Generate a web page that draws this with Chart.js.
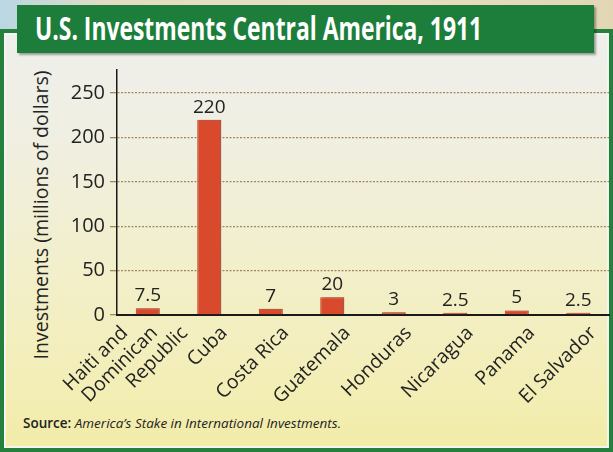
<!DOCTYPE html>
<html>
<head>
<meta charset="utf-8">
<script src="https://cdn.jsdelivr.net/npm/chart.js@4.4.1/dist/chart.umd.min.js"></script>
<style>
  html, body { margin: 0; padding: 0; }
  body {
    width: 613px; height: 452px; position: relative; overflow: hidden;
    background: linear-gradient(90deg, #b9d7e4 0%, #e4dcc2 18%, #eadfc4 60%, #e3d6b4 100%);
    font-family: "Open Sans", "Noto Sans", sans-serif;
  }
  #panel {
    position: absolute; left: 0; top: 29px; width: 613px; height: 423px;
    box-sizing: border-box;
    border: 4px solid #25803e;
    box-shadow: inset 0 0 0 2px #f4f4f0;
    background: linear-gradient(180deg, #efefec 0%, #f0efe2 25%, #f2efcc 55%, #f3eeb6 85%, #f2eca8 100%);
  }
  #title {
    position: absolute; left: 17px; top: 5px; width: 577px; height: 48px;
    background: #1d7d3b;
    box-shadow: 2px 2px 2px rgba(0,0,0,0.35);
  }
  #title span {
    position: absolute; left: 18px; top: 1px;
    color: #fff; font-weight: 700; font-size: 33px; line-height: 44px;
    white-space: nowrap; transform-origin: 0 0;
  }
  #ytitle {
    position: absolute; left: 40px; top: 215px;
    transform: translate(-50%, -50%) rotate(-90deg);
    font-size: 19.5px; color: #222; white-space: nowrap;
  }
  #source {
    position: absolute; left: 23px; top: 414px;
    font-size: 13.5px; color: #222; white-space: nowrap;
  }
  #source b { font-weight: 600; }
  #wrap { position: absolute; left: 0; top: 0; width: 613px; height: 452px; }
</style>
</head>
<body>
<div id="panel"></div>
<div id="title"><span id="titleText">U.S. Investments Central America, 1911</span></div>
<div id="ytitle">Investments (millions of dollars)</div>
<div id="source"><b>Source:</b> <i>America’s Stake in International Investments.</i></div>
<div id="wrap"><canvas id="chart" width="613" height="452"></canvas></div>

<script>
// Dados do gráfico
const paises = [
  ["Haiti and", "Dominican", "Republic"],
  "Cuba",
  "Costa Rica",
  "Guatemala",
  "Honduras",
  "Nicaragua",
  "Panama",
  "El Salvador"
];
const investimentos = [7.5, 220, 7, 20, 3, 2.5, 5, 2.5];
const rotulos = ["7.5", "220", "7", "20", "3", "2.5", "5", "2.5"];
const yTicks = [0, 50, 100, 150, 200, 250];

// Ajusta a largura do título (fonte condensada no original)
const t = document.getElementById("titleText");
t.style.transform = "scaleX(" + (447 / t.offsetWidth) + ")";

// Sombra leve à direita das barras
const sombraPlugin = {
  id: "sombra",
  beforeDatasetsDraw(chart) {
    const ctx = chart.ctx;
    ctx.save();
    ctx.shadowColor = "rgba(90,90,90,0.35)";
    ctx.shadowOffsetX = 3;
    ctx.shadowOffsetY = 0;
    ctx.shadowBlur = 2;
  },
  afterDatasetsDraw(chart) {
    chart.ctx.restore();
  }
};

// Valores acima das barras
const valorPlugin = {
  id: "valores",
  afterDatasetsDraw(chart) {
    const ctx = chart.ctx;
    const meta = chart.getDatasetMeta(0);
    ctx.save();
    ctx.font = '19px "Open Sans"';
    ctx.fillStyle = "#222";
    ctx.textAlign = "center";
    ctx.textBaseline = "bottom";
    meta.data.forEach((bar, i) => {
      ctx.fillText(rotulos[i], bar.x, bar.y - 3);
    });
    ctx.restore();
  }
};

// Rótulos do eixo x inclinados, cada linha termina rente ao eixo
const rotuloXPlugin = {
  id: "rotulosX",
  afterDraw(chart) {
    const ctx = chart.ctx;
    const xs = chart.scales.x;
    ctx.save();
    ctx.font = '19.5px "Open Sans"';
    ctx.fillStyle = "#222";
    ctx.textAlign = "right";
    ctx.textBaseline = "top";
    paises.forEach((lab, i) => {
      const linhas = Array.isArray(lab) ? lab : [lab];
      const n = linhas.length;
      const px = xs.getPixelForValue(i);
      linhas.forEach((txt, j) => {
        const ax = px + 8 + (j - (n - 1) / 2) * 30 - (n - 1) * 4;
        const ay = xs.top + 8;
        ctx.save();
        ctx.translate(ax, ay);
        ctx.rotate(-Math.PI / 4);
        ctx.fillText(txt, 0, 0);
        ctx.restore();
      });
    });
    ctx.restore();
  }
};

const ctx = document.getElementById("chart").getContext("2d");
new Chart(ctx, {
  type: "bar",
  data: {
    labels: paises,
    datasets: [{
      data: investimentos,
      backgroundColor: "#d9492c",
      borderColor: "#b5341c",
      borderWidth: 1,
      barPercentage: 0.39,
      categoryPercentage: 1
    }]
  },
  options: {
    responsive: false,
    animation: false,
    layout: { padding: { left: 0, top: 70, right: 4, bottom: 0 } },
    plugins: { legend: { display: false }, tooltip: { enabled: false } },
    scales: {
      x: {
        grid: { display: false },
        border: { display: true, color: "#1a1a1a", width: 2 },
        ticks: { display: false },
        afterFit(scale) { scale.height = 452 - 315; }
      },
      y: {
        min: 0,
        max: 276,
        afterBuildTicks(scale) {
          scale.ticks = yTicks.map(v => ({ value: v }));
        },
        grid: {
          color: "rgba(150,126,78,0.9)",
          lineWidth: 1.3,
          tickLength: 7,
          drawOnChartArea: true
        },
        border: { display: true, color: "#1a1a1a", width: 1.5, dash: [2, 1.5] },
        ticks: {
          color: "#222",
          font: { family: "Open Sans", size: 20 },
          padding: 5
        },
        afterFit(scale) { scale.width = 117; }
      }
    }
  },
  plugins: [sombraPlugin, valorPlugin, rotuloXPlugin]
});
</script>
</body>
</html>
